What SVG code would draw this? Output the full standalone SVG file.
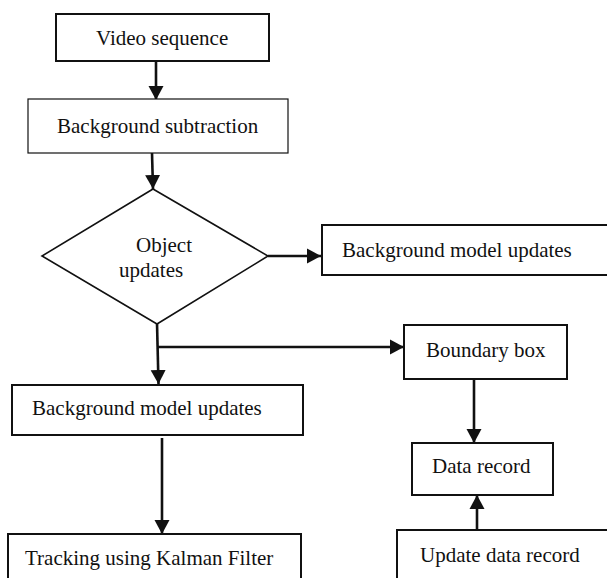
<svg xmlns="http://www.w3.org/2000/svg" width="607" height="578" viewBox="0 0 607 578">
<style>
text{font-family:'Liberation Serif','Times New Roman','DejaVu Serif',serif;font-size:21px;fill:#111}
.box{fill:#fff;stroke:#111;stroke-width:2}
.thin{stroke-width:1.2}
.dia{fill:#fff;stroke:#111;stroke-width:1.6}
.con{fill:none;stroke:#111;stroke-width:2.6}
</style>
<defs>
<marker id="ah" markerUnits="userSpaceOnUse" markerWidth="15" markerHeight="16" refX="14" refY="8" orient="auto" viewBox="0 0 15 16">
<path d="M0,0.5 L14,8 L0,15.5 z" fill="#111"/>
</marker>
</defs>
<rect x="0" y="0" width="607" height="578" fill="#fff"/>
<g id="connectors">
<line class="con" x1="156" y1="61" x2="156" y2="100" marker-end="url(#ah)"/>
<line class="con" x1="152" y1="153" x2="153" y2="189" marker-end="url(#ah)"/>
<line class="con" x1="268" y1="256" x2="321" y2="256" marker-end="url(#ah)"/>
<line class="con" x1="157" y1="323" x2="158.5" y2="384" marker-end="url(#ah)"/>
<line class="con" x1="157" y1="347" x2="404" y2="347" marker-end="url(#ah)"/>
<line class="con" x1="162" y1="438" x2="162" y2="534" marker-end="url(#ah)"/>
<line class="con" x1="474" y1="380" x2="474" y2="443" marker-end="url(#ah)"/>
<line class="con" x1="477" y1="530" x2="477" y2="495" marker-end="url(#ah)"/>
</g>
<g font-family="Liberation Serif, Times New Roman, serif">
<g id="video-sequence">
<rect class="box" x="56" y="14" width="213" height="47"/>
<text x="96" y="45">Video sequence</text>
</g>
<g id="background-subtraction">
<rect class="box thin" x="28" y="99" width="260" height="54"/>
<text x="57" y="133">Background subtraction</text>
</g>
<g id="object-updates">
<polygon class="dia" points="153,189 268,256 157,324 42,256"/>
<text x="136" y="252">Object</text>
<text x="119" y="277">updates</text>
</g>
<g id="background-model-updates-right">
<rect class="box" x="322" y="225" width="290" height="50"/>
<text x="342" y="257">Background model updates</text>
</g>
<g id="boundary-box">
<rect class="box" x="404" y="325" width="163" height="54"/>
<text x="426" y="357">Boundary box</text>
</g>
<g id="background-model-updates-left">
<rect class="box" x="12" y="385" width="291" height="50"/>
<text x="32" y="415">Background model updates</text>
</g>
<g id="data-record">
<rect class="box" x="412" y="443" width="141" height="52"/>
<text x="432" y="473">Data record</text>
</g>
<g id="tracking-kalman">
<rect class="box" x="8" y="534" width="293" height="60"/>
<text x="25" y="565">Tracking using Kalman Filter</text>
</g>
<g id="update-data-record">
<rect class="box" x="397" y="530" width="215" height="64"/>
<text x="420" y="562">Update data record</text>
</g>
</g>
</svg>
